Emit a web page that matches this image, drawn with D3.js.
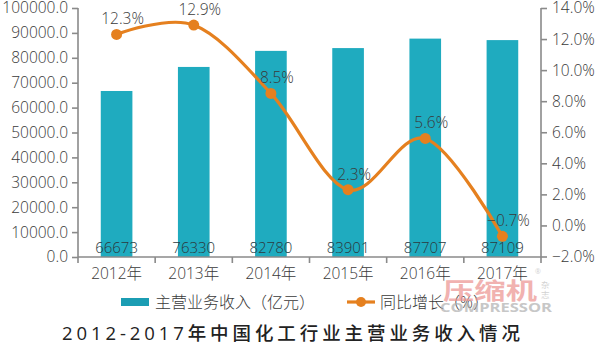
<!DOCTYPE html>
<html>
<head>
<meta charset="utf-8">
<script src="https://cdn.jsdelivr.net/npm/d3@7"></script>
<style>
  html, body { margin: 0; padding: 0; background: #fff; }
  svg { display: block; }
  text { font-family: "Open Sans", "Noto Sans CJK SC", sans-serif; }
</style>
</head>
<body>
<svg id="chart" width="600" height="347"></svg>
<script>
// Main business revenue of China's chemical industry, 2012-2017
const years = ["2012年", "2013年", "2014年", "2015年", "2016年", "2017年"];
const revenue = [66673, 76330, 82780, 83901, 87707, 87109];     // 亿元
const growth = [12.3, 12.9, 8.5, 2.3, 5.6, -0.7];                // %
const leftTicks = [0, 10000, 20000, 30000, 40000, 50000, 60000, 70000, 80000, 90000, 100000];
const rightTicks = [-2, 0, 2, 4, 6, 8, 10, 12, 14];
const legendLabels = ["主营业务收入（亿元）", "同比增长（%）"];
const title = "2012-2017年中国化工行业主营业务收入情况";

const svg = d3.select("#chart");
const axisColor = "#8a8a8a";
const textColor = "#3a3a3a";
const barColor = "#1fabbf";
const lineColor = "#e5801f";

const plotL = 78, plotR = 541, plotT = 8, plotB = 257;

const x = d3.scaleBand().domain(years).range([plotL, plotR]).padding(0);
const xb = d3.scaleBand().domain(years).range([plotL, plotR])
  .paddingInner(0.59).paddingOuter(0.295);
const yL = d3.scaleLinear().domain([0, 100000]).range([plotB, plotT]);
const yR = d3.scaleLinear().domain([-2, 14]).range([plotB - 0.5, plotT]);

// bars
svg.append("g").selectAll("rect").data(revenue).join("rect")
  .attr("x", (d, i) => xb(years[i]))
  .attr("y", d => yL(d))
  .attr("width", xb.bandwidth())
  .attr("height", d => yL(0) - yL(d))
  .attr("fill", barColor);

// bar value labels at the foot of each bar
svg.append("g").selectAll("text").data(revenue).join("text")
  .attr("x", (d, i) => x(years[i]) + x.bandwidth() / 2)
  .attr("y", plotB - 4)
  .attr("text-anchor", "middle")
  .attr("font-size", 15)
  .attr("font-weight", 300)
  .attr("fill", "#2b3a40")
  .text(d => d);

// left axis
const gL = svg.append("g").attr("transform", `translate(${plotL},0)`)
  .call(d3.axisLeft(yL).tickValues(leftTicks).tickSize(6).tickPadding(4)
    .tickFormat(d => d3.format(".1f")(d)));
// right axis
const gR = svg.append("g").attr("transform", `translate(${plotR},0)`)
  .call(d3.axisRight(yR).tickValues(rightTicks).tickSize(6).tickPadding(5)
    .tickFormat(d => d3.format(".1f")(d).replace("-", "−") + "%"));
// bottom axis: labels centred in bands, ticks on band edges
const gB = svg.append("g").attr("transform", `translate(0,${plotB})`)
  .call(d3.axisBottom(x).tickSize(0).tickPadding(8));
const edges = years.map(d => x(d)).concat([plotR]);
gB.selectAll("line.edge").data(edges).join("line")
  .attr("class", "edge")
  .attr("x1", d => d).attr("x2", d => d)
  .attr("y1", 0).attr("y2", 6);

[gL, gR, gB].forEach(g => {
  g.selectAll("path.domain").attr("stroke", axisColor).attr("stroke-width", 1.6);
  g.selectAll("line").attr("stroke", axisColor).attr("stroke-width", 1.6);
  g.selectAll("text").attr("fill", textColor).attr("font-size", 15.5)
    .attr("font-weight", 300).attr("font-family", "'Open Sans', 'Noto Sans CJK SC', sans-serif");
});
// axis spines
gL.select("path.domain").attr("d", `M0,${plotT}V${plotB}`);
gR.select("path.domain").attr("d", `M0,${plotT}V${plotB}`);
gB.select("path.domain").attr("d", `M${plotL},0H${plotR}`);
gB.selectAll(".tick text").attr("dy", "0.9em");

// growth line
const cx = (d, i) => x(years[i]) + x.bandwidth() / 2;
const line = d3.line().x(cx).y(d => yR(d)).curve(d3.curveCardinal.tension(0));
svg.append("path").datum(growth)
  .attr("d", line)
  .attr("fill", "none")
  .attr("stroke", lineColor)
  .attr("stroke-width", 3.2)
  .attr("stroke-linecap", "round");
svg.append("g").selectAll("circle").data(growth).join("circle")
  .attr("cx", cx).attr("cy", d => yR(d)).attr("r", 5.5)
  .attr("fill", lineColor);
svg.append("g").selectAll("text").data(growth).join("text")
  .attr("x", (d, i) => cx(d, i) + 6)
  .attr("y", d => yR(d) - 10)
  .attr("text-anchor", "middle")
  .attr("font-size", 15.5)
  .attr("font-weight", 300)
  .attr("fill", textColor)
  .text(d => d3.format(".1f")(d).replace("-", "−") + "%");

// legend
const lg = svg.append("g");
lg.append("rect").attr("x", 121).attr("y", 298).attr("width", 28).attr("height", 8)
  .attr("fill", "#1b9db3");
lg.append("text").attr("x", 155).attr("y", 307.5).attr("font-size", 16)
  .attr("font-weight", 300).attr("fill", textColor)
  .attr("font-family", "'Noto Sans CJK SC', sans-serif").text(legendLabels[0]);
lg.append("line").attr("x1", 347).attr("x2", 375).attr("y1", 302).attr("y2", 302)
  .attr("stroke", lineColor).attr("stroke-width", 3.2);
lg.append("circle").attr("cx", 361).attr("cy", 302).attr("r", 5).attr("fill", lineColor);
lg.append("text").attr("x", 380).attr("y", 307.5).attr("font-size", 16)
  .attr("font-weight", 300).attr("fill", textColor)
  .attr("font-family", "'Noto Sans CJK SC', sans-serif").text(legendLabels[1]);

// publisher mark
const wm = svg.append("g").attr("opacity", 0.7);
wm.append("text").attr("x", 443).attr("y", 299).attr("font-size", 23)
  .attr("font-weight", 700).attr("fill", "#ec9290")
  .attr("textLength", 94).attr("lengthAdjust", "spacingAndGlyphs")
  .attr("font-family", "'Noto Sans CJK SC', sans-serif").text("压缩机");
wm.append("text").attr("x", 535).attr("y", 274).attr("font-size", 7)
  .attr("fill", "#c0c0c0").text("®");
wm.append("text").attr("x", 541).attr("y", 288).attr("font-size", 8.5)
  .attr("fill", "#c0c0c0").attr("font-family", "'Noto Sans CJK SC', sans-serif").text("杂");
wm.append("text").attr("x", 541).attr("y", 298).attr("font-size", 8.5)
  .attr("fill", "#c0c0c0").attr("font-family", "'Noto Sans CJK SC', sans-serif").text("志");
wm.append("text").attr("x", 440).attr("y", 312).attr("font-size", 12.5)
  .attr("font-weight", 700).attr("fill", "#b0b0b0")
  .attr("textLength", 112).attr("lengthAdjust", "spacingAndGlyphs")
  .attr("font-family", "'Liberation Sans', sans-serif").text("COMPRESSOR");

// title
svg.append("text").attr("x", 62).attr("y", 340).attr("font-size", 18.5)
  .attr("font-weight", 500)
  .attr("fill", "#222")
  .attr("textLength", 458).attr("lengthAdjust", "spacing")
  .attr("font-family", "'Liberation Serif', 'Noto Sans CJK SC', serif")
  .text(title);
</script>
</body>
</html>
